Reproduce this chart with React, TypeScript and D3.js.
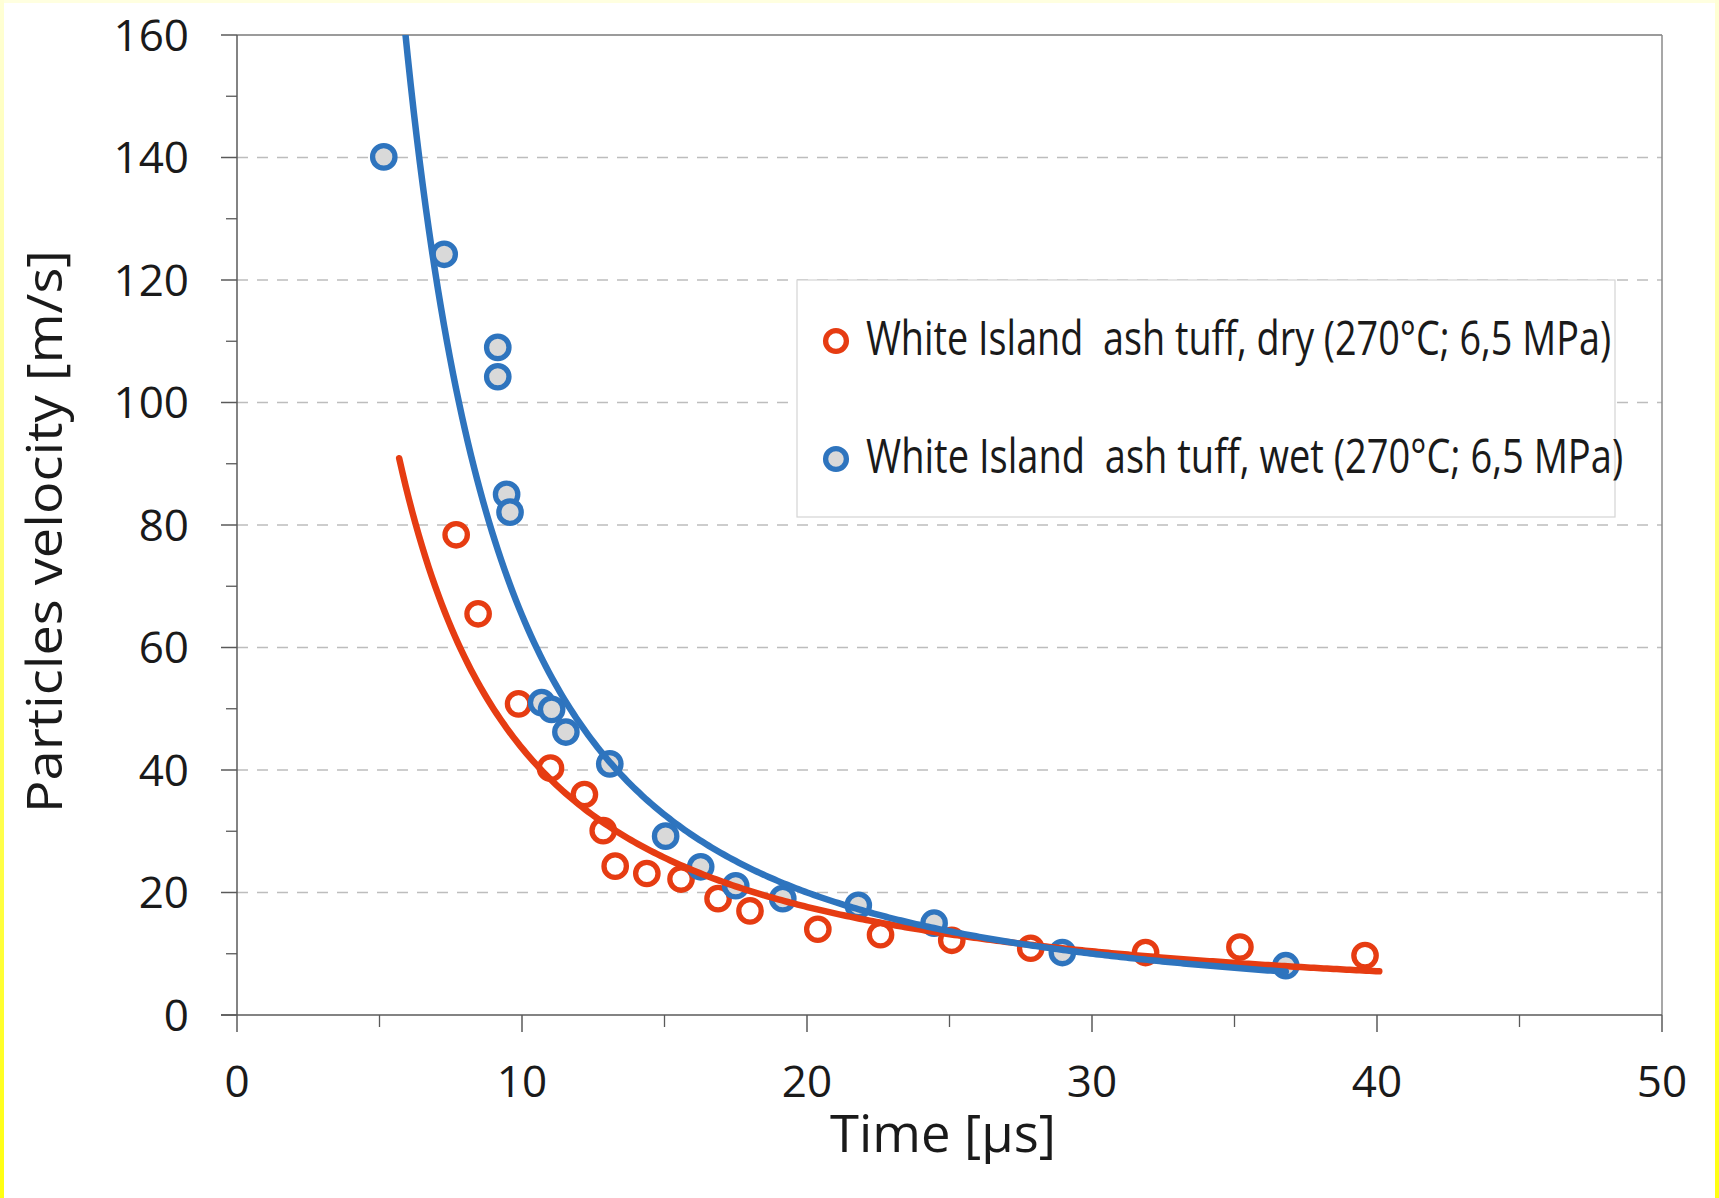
import React, { useEffect, useLayoutEffect, useRef, useState } from "react";
import * as d3 from "d3";

// ---- Data ----
const dryTime = [7.69, 8.46, 9.88, 11.0, 12.19, 12.85, 13.27, 14.38, 15.58, 16.88, 18.0, 20.38, 22.58, 25.08, 27.85, 31.88, 35.19, 39.58];
const dryVelocity = [78.4, 65.5, 50.8, 40.3, 36.0, 30.1, 24.3, 23.1, 22.2, 19.0, 17.0, 14.0, 13.1, 12.2, 10.9, 10.2, 11.1, 9.7];
const wetTime = [5.15, 7.27, 9.15, 9.15, 9.46, 9.58, 10.69, 11.04, 11.54, 13.08, 15.04, 16.27, 17.5, 19.15, 21.8, 24.46, 28.96, 36.8];
const wetVelocity = [140.1, 124.2, 109.0, 104.2, 85.0, 82.1, 51.0, 49.9, 46.2, 41.0, 29.2, 24.2, 21.1, 19.0, 17.9, 15.0, 10.2, 8.05];

// trendline forecast (backward, forward) in µs
const dryForecast = [2, 0.5];
const wetForecast = [0, 0];

const xTicks = [0, 10, 20, 30, 40, 50];
const xMinorTicks = [5, 15, 25, 35, 45];
const yTicks = [0, 20, 40, 60, 80, 100, 120, 140, 160];
const yMinorTicks = [10, 30, 50, 70, 90, 110, 130, 150];
const gridTicks = [20, 40, 60, 80, 100, 120, 140];

const legendLabels = [
  "White Island  ash tuff, dry (270°C; 6,5 MPa)",
  "White Island  ash tuff, wet (270°C; 6,5 MPa)",
];
const xTitle = "Time [µs]";
const yTitle = "Particles velocity [m/s]";

// ---- Style ----
const W = 1719;
const H = 1198;
const M = { left: 237, top: 35, right: 57, bottom: 183 };
const RED = "#e63c12";
const BLUE = "#2e74be";
const FILL = "#d9d9d9";
const AXIS = "#5a5a5a";
const FONT = "'Open Sans', 'Noto Sans', sans-serif";

function powerFit(ts: number[], vs: number[]) {
  const lx = ts.map(Math.log);
  const ly = vs.map(Math.log);
  const mx = d3.mean(lx) as number;
  const my = d3.mean(ly) as number;
  const sxy = d3.sum(lx, (x, i) => (x - mx) * (ly[i] - my));
  const sxx = d3.sum(lx, (x) => (x - mx) * (x - mx));
  const b = sxy / sxx;
  const a = Math.exp(my - b * mx);
  return (t: number) => a * Math.pow(t, b);
}

// Text squeezed horizontally to a target width (condensed look)
function FitText(props: {
  x: number;
  y: number;
  width: number;
  fontSize: number;
  anchor?: "start" | "middle";
  rotate?: number;
  children: string;
}) {
  const ref = useRef<SVGTextElement>(null);
  const [sx, setSx] = useState(0.7);
  useLayoutEffect(() => {
    if (ref.current) {
      const len = ref.current.getComputedTextLength();
      if (len > 0) setSx(props.width / len);
    }
  }, [props.width, props.children]);
  const rot = props.rotate ? ` rotate(${props.rotate})` : "";
  return (
    <text
      ref={ref}
      transform={`translate(${props.x},${props.y})${rot} scale(${sx},1)`}
      fontSize={props.fontSize}
      textAnchor={props.anchor || "start"}
      fill="#1a1a1a"
      style={{ whiteSpace: "pre" }}
    >
      {props.children}
    </text>
  );
}

export default function App() {
  useEffect(() => {
    document.body.style.margin = "0";
  }, []);

  const x = d3.scaleLinear().domain([0, 50]).range([M.left, W - M.right]);
  const y = d3.scaleLinear().domain([0, 160]).range([H - M.bottom, M.top]);

  const makeCurve = (ts: number[], vs: number[], fc: number[]) => {
    const f = powerFit(ts, vs);
    const [lo, hi] = d3.extent(ts) as [number, number];
    const start = lo - fc[0];
    const end = hi + fc[1];
    const n = 300;
    const pts: [number, number][] = d3.range(n + 1).map((i) => {
      const t = start + ((end - start) * i) / n;
      return [t, f(t)];
    });
    return d3
      .line<[number, number]>()
      .x((d) => x(d[0]))
      .y((d) => y(d[1]))(pts) as string;
  };

  const dryPath = makeCurve(dryTime, dryVelocity, dryForecast);
  const wetPath = makeCurve(wetTime, wetVelocity, wetForecast);

  const x0 = x(0);
  const x1 = x(50);
  const y0 = y(0);
  const y1 = y(160);
  const R = 11.2;
  const SW = 5.3;

  return (
    <svg
      width={W}
      height={H}
      style={{ position: "absolute", left: 0, top: 0, display: "block", background: "#fff" }}
      fontFamily={FONT}
    >
      <defs>
        <linearGradient id="yel" x1="0" y1="0" x2="0" y2="1">
          <stop offset="0" stopColor="#ffffd6" />
          <stop offset="0.5" stopColor="#ffff70" />
          <stop offset="1" stopColor="#ffff10" />
        </linearGradient>
        <clipPath id="plotClip">
          <rect x={x0} y={y1} width={x1 - x0} height={y0 - y1} />
        </clipPath>
      </defs>
      <rect x={0} y={0} width={W} height={H} fill="#fff" />
      <rect x={0} y={0} width={W} height={3} fill="#ffffe0" />
      <rect x={0} y={0} width={4} height={H} fill="url(#yel)" />
      <rect x={W - 4} y={0} width={4} height={H} fill="url(#yel)" />

      {/* gridlines */}
      {gridTicks.map((v) => (
        <line key={"g" + v} x1={x0} x2={x1} y1={y(v)} y2={y(v)} stroke="#bdbdbd" strokeWidth={1.7} strokeDasharray="11,9" />
      ))}

      {/* plot border top & right */}
      <line x1={x0} x2={x1} y1={y1} y2={y1} stroke="#7a7a7a" strokeWidth={1.5} />
      <line x1={x1} x2={x1} y1={y1} y2={y0} stroke="#8a8a8a" strokeWidth={1.5} />

      {/* axes */}
      <line x1={x0} x2={x0} y1={y1} y2={y0} stroke={AXIS} strokeWidth={1.5} />
      <line x1={x0 - 16} x2={x1} y1={y0} y2={y0} stroke={AXIS} strokeWidth={1.5} />
      {yTicks.map((v) => (
        <line key={"yt" + v} x1={x0 - 16} x2={x0} y1={y(v)} y2={y(v)} stroke={AXIS} strokeWidth={1.5} />
      ))}
      {yMinorTicks.map((v) => (
        <line key={"ym" + v} x1={x0 - 11} x2={x0} y1={y(v)} y2={y(v)} stroke={AXIS} strokeWidth={1.3} />
      ))}
      {xTicks.map((v) => (
        <line key={"xt" + v} x1={x(v)} x2={x(v)} y1={y0} y2={y0 + 17} stroke={AXIS} strokeWidth={1.5} />
      ))}
      {xMinorTicks.map((v) => (
        <line key={"xm" + v} x1={x(v)} x2={x(v)} y1={y0} y2={y0 + 12} stroke={AXIS} strokeWidth={1.3} />
      ))}

      {/* tick labels */}
      {yTicks.map((v) => (
        <text key={"yl" + v} x={189} y={y(v) + 15.5} textAnchor="end" fontSize={44} fill="#1a1a1a">
          {v}
        </text>
      ))}
      {xTicks.map((v) => (
        <text key={"xl" + v} x={x(v)} y={1097} textAnchor="middle" fontSize={44} fill="#1a1a1a">
          {v}
        </text>
      ))}

      {/* axis titles */}
      <FitText x={943} y={1152} width={226} fontSize={52} anchor="middle">
        {xTitle}
      </FitText>
      <FitText x={62} y={531.5} width={563} fontSize={49} anchor="middle" rotate={-90}>
        {yTitle}
      </FitText>

      {/* markers */}
      {dryTime.map((t, i) => (
        <circle key={"d" + i} cx={x(t)} cy={y(dryVelocity[i])} r={R} fill="#fff" stroke={RED} strokeWidth={SW} />
      ))}
      {wetTime.map((t, i) => (
        <circle key={"w" + i} cx={x(t)} cy={y(wetVelocity[i])} r={R} fill={FILL} stroke={BLUE} strokeWidth={SW} />
      ))}

      {/* trendlines */}
      <g clipPath="url(#plotClip)">
        <path d={dryPath} fill="none" stroke={RED} strokeWidth={6.5} strokeLinecap="round" />
        <path d={wetPath} fill="none" stroke={BLUE} strokeWidth={6.5} strokeLinecap="round" />
      </g>

      {/* legend */}
      <rect x={797} y={280} width={818} height={237} fill="#fff" stroke="#d4d4d4" strokeWidth={1.2} />
      <circle cx={836} cy={341} r={R - 0.8} fill="#fff" stroke={RED} strokeWidth={SW} />
      <circle cx={836} cy={459} r={R - 0.8} fill={FILL} stroke={BLUE} strokeWidth={SW} />
      <FitText x={866} y={355} width={745} fontSize={47}>
        {legendLabels[0]}
      </FitText>
      <FitText x={866} y={473} width={757} fontSize={47}>
        {legendLabels[1]}
      </FitText>
    </svg>
  );
}
